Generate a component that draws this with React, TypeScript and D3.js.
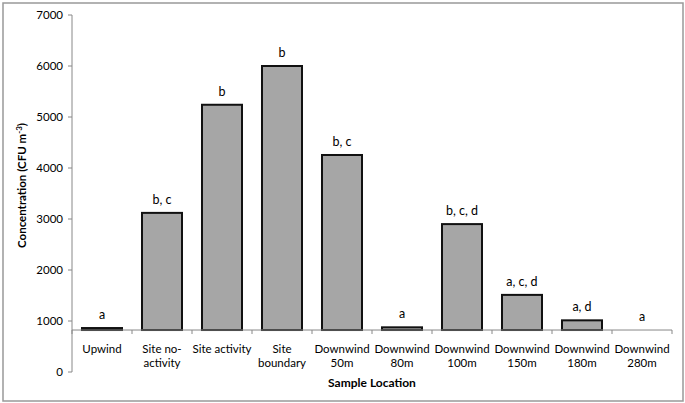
import React from "react";
import * as d3 from "d3";

const categories = [
  ["Upwind"],
  ["Site no-", "activity"],
  ["Site activity"],
  ["Site", "boundary"],
  ["Downwind", "50m"],
  ["Downwind", "80m"],
  ["Downwind", "100m"],
  ["Downwind", "150m"],
  ["Downwind", "180m"],
  ["Downwind", "280m"],
];
const values = [862, 3120, 5240, 6000, 4255, 876, 2900, 1512, 1013, 823];
const letters = ["a", "b, c", "b", "b", "b, c", "a", "b, c, d", "a, c, d", "a, d", "a"];
const yTicks = [0, 1000, 2000, 3000, 4000, 5000, 6000, 7000];
const baseline = 823;

const W = 685;
const H = 403;
const FONT = "Lato, 'Open Sans', sans-serif";

export default function App() {
  const left = 72;
  const right = 672;
  const top = 15;
  const bottom = 372;
  const y = d3.scaleLinear().domain([0, 7000]).range([bottom, top]);
  const x = d3
    .scaleBand<number>()
    .domain(categories.map((_, i) => i))
    .range([left, right])
    .paddingInner(1 / 3)
    .paddingOuter(1 / 6);
  const step = x.step();
  const yAxis = y(baseline);

  return (
    <svg
      width={W}
      height={H}
      style={{ position: "absolute", left: 0, top: 0 }}
      fontFamily={FONT}
    >
      <rect x={0} y={0} width={W} height={H} fill="#fff" />
      <rect x={3} y={3} width={680} height={398} fill="none" stroke="#999" strokeWidth={1.5} />

      {/* y axis */}
      <line x1={left} x2={left} y1={top} y2={bottom} stroke="#888" strokeWidth={1} />
      {yTicks.map((t) => (
        <g key={t}>
          <line x1={left - 4} x2={left} y1={y(t)} y2={y(t)} stroke="#888" />
          <text x={left - 9} y={y(t)} dy="0.35em" textAnchor="end" fontSize={11.5} fill="#000">
            {t}
          </text>
        </g>
      ))}
      <text
        transform={`translate(26,${(top + bottom) / 2 - 8}) rotate(-90)`}
        textAnchor="middle"
        fontSize={11.5}
        fontWeight="bold"
        fill="#000"
      >
        Concentration (CFU m
        <tspan dy={-4} fontSize={8}>-3</tspan>
        <tspan dy={4}>)</tspan>
      </text>

      {/* bars */}
      {values.map((v, i) => (
        <rect
          key={i}
          x={x(i)!}
          y={y(v)}
          width={x.bandwidth()}
          height={Math.max(0, yAxis - y(v))}
          fill="#a6a6a6"
          stroke="#111"
          strokeWidth={2}
        />
      ))}

      {/* x axis */}
      <line x1={left} x2={right} y1={yAxis} y2={yAxis} stroke="#888" />
      {d3.range(categories.length + 1).map((i) => (
        <line
          key={i}
          x1={left + i * step}
          x2={left + i * step}
          y1={yAxis}
          y2={yAxis + 4}
          stroke="#888"
        />
      ))}

      {/* letters */}
      {values.map((v, i) => (
        <text
          key={i}
          x={x(i)! + x.bandwidth() / 2}
          y={y(v) - 9}
          textAnchor="middle"
          fontSize={12.5}
          fill="#000"
        >
          {letters[i]}
        </text>
      ))}

      {/* category labels */}
      {categories.map((lines, i) => (
        <text
          key={i}
          x={x(i)! + x.bandwidth() / 2}
          y={353}
          textAnchor="middle"
          fontSize={11.5}
          fill="#000"
        >
          {lines.map((l, j) => (
            <tspan key={j} x={x(i)! + x.bandwidth() / 2} dy={j === 0 ? 0 : 14}>
              {l}
            </tspan>
          ))}
        </text>
      ))}

      <text x={372} y={387} textAnchor="middle" fontSize={12} fontWeight="bold" fill="#000">
        Sample Location
      </text>
    </svg>
  );
}
